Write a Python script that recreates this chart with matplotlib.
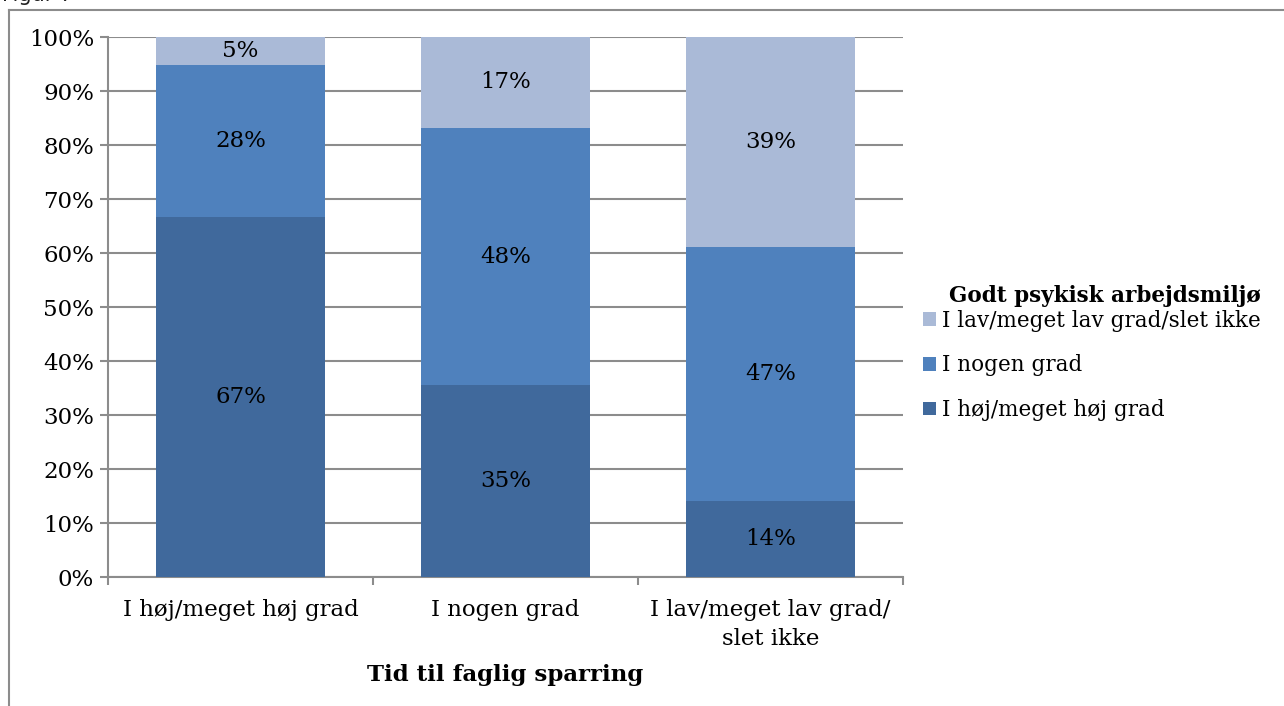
import matplotlib
matplotlib.use("Agg")
import matplotlib.pyplot as plt
import numpy as np

categories = ["I høj/meget høj grad", "I nogen grad", "I lav/meget lav grad/\nslet ikke"]
series_names = ["I høj/meget høj grad", "I nogen grad", "I lav/meget lav grad/slet ikke"]
hoej = [66.7, 35.5, 14.1]
nogen = [28.1, 47.7, 47.0]
lav = [5.2, 16.8, 38.9]
labels_hoej = ["67%", "35%", "14%"]
labels_nogen = ["28%", "48%", "47%"]
labels_lav = ["5%", "17%", "39%"]

colors = ["#40699C", "#4F81BD", "#AABAD7"]
FONT = "DejaVu Serif"
FS = 16.5
LFS = 15.5

W, H = 1284, 706
fig = plt.figure(figsize=(W / 100, H / 100), dpi=100)
fig.patch.set_facecolor("white")

# outer frame
fig.add_artist(plt.Line2D([8.5 / W, 8.5 / W], [0, 1 - 9.5 / H], color="#8C8C8C", lw=1.5, transform=fig.transFigure))
fig.add_artist(plt.Line2D([8.5 / W, 1], [1 - 9.5 / H, 1 - 9.5 / H], color="#8C8C8C", lw=1.5, transform=fig.transFigure))
fig.text(2 / W, 1 + 5 / H, "Figur 7", fontsize=15, family="DejaVu Sans", color="#222222", va="center", ha="left")

ax = fig.add_axes([108 / W, 1 - 577 / H, 795 / W, 540 / H])
x = np.arange(len(categories))
width = 0.64
b1 = ax.bar(x, hoej, width, color=colors[0], label=series_names[0], zorder=3)
b2 = ax.bar(x, nogen, width, bottom=hoej, color=colors[1], label=series_names[1], zorder=3)
bottom3 = [a + b for a, b in zip(hoej, nogen)]
b3 = ax.bar(x, lav, width, bottom=bottom3, color=colors[2], label=series_names[2], zorder=3)

for i in range(len(categories)):
    ax.text(x[i], hoej[i] / 2, labels_hoej[i], ha="center", va="center", fontsize=FS, family=FONT, zorder=4)
    ax.text(x[i], hoej[i] + nogen[i] / 2, labels_nogen[i], ha="center", va="center", fontsize=FS, family=FONT, zorder=4)
    ax.text(x[i], bottom3[i] + lav[i] / 2, labels_lav[i], ha="center", va="center", fontsize=FS, family=FONT, zorder=4)

ax.set_xlim(-0.5, 2.5)
ax.set_ylim(0, 100)
ax.set_yticks(np.arange(0, 101, 10))
ax.set_yticklabels([f"{v}%" for v in range(0, 101, 10)], family=FONT, fontsize=FS)
ax.yaxis.grid(True, color="#8C8C8C", lw=1.5, zorder=0)
ax.set_xticks(x)
ax.set_xticklabels(categories, family=FONT, fontsize=FS, linespacing=1.4)
ax.set_xticks([-0.5, 0.5, 1.5, 2.5], minor=True)
ax.tick_params(axis="x", which="major", length=0, pad=16)
ax.tick_params(axis="x", which="minor", length=6, width=1.5, color="#8C8C8C")
ax.tick_params(axis="y", length=6, width=1.5, color="#8C8C8C", pad=4)
for s in ["top", "right"]:
    ax.spines[s].set_visible(False)
ax.spines["left"].set_color("#8C8C8C")
ax.spines["bottom"].set_color("#8C8C8C")
ax.spines["left"].set_linewidth(1.5)
ax.spines["bottom"].set_linewidth(1.5)
ax.set_xlabel("Tid til faglig sparring", family=FONT, fontsize=FS, fontweight="bold", labelpad=10)

handles = [b3, b2, b1]
leg = fig.legend(handles, [series_names[2], series_names[1], series_names[0]],
                 title="Godt psykisk arbejdsmiljø", loc="upper right",
                 bbox_to_anchor=(1276 / W, 1 - 270 / H),
                 frameon=False, prop={"family": FONT, "size": LFS},
                 title_fontproperties={"family": FONT, "size": LFS, "weight": "bold"},
                 handlelength=0.6, handleheight=0.6, handletextpad=0.3, labelspacing=1.05,
                 borderpad=0.2, alignment="right")
leg._legend_box.sep = 2

fig.savefig("out.png", dpi=100, facecolor="white")
